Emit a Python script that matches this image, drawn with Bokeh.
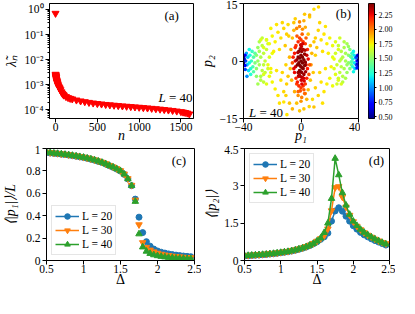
import numpy as np
from bokeh.plotting import figure
from bokeh.models import (ColumnDataSource, LinearColorMapper, FixedTicker,
                          Label, Legend, LegendItem, CustomJSTickFormatter,
                          NumeralTickFormatter, Range1d)
from bokeh.layouts import column, row
from bokeh.transform import transform
from bokeh.embed import file_html
from bokeh.resources import INLINE

# ---------------- panel (a): eigenvalue spectrum, L = 40 ----------------
n_idx = [0, 1, 2, 3, 4, 5, 6, 7, 8, 10, 12, 14, 16, 18, 20, 23, 26, 30, 35, 40, 45, 50,
         60, 70, 80, 90, 100, 125, 150, 175, 200, 250, 300, 350, 400, 450, 500, 550,
         600, 650, 700, 750, 800, 850, 900, 950, 1000, 1050, 1100, 1150, 1200, 1250,
         1300, 1350, 1400, 1450, 1500, 1525, 1550, 1575, 1600]
lam = [0.7, 2.6e-3, 2.45e-3, 2.3e-3, 2.2e-3, 2.1e-3, 2.0e-3, 1.9e-3, 1.82e-3, 1.68e-3,
       1.56e-3, 1.46e-3, 1.38e-3, 1.3e-3, 1.23e-3, 1.14e-3, 1.06e-3, 9.8e-4, 8.9e-4,
       8.2e-4, 7.6e-4, 7.1e-4, 6.3e-4, 5.2e-4, 4.6e-4, 4.15e-4, 3.85e-4, 3.35e-4,
       3.05e-4, 2.85e-4, 2.7e-4, 2.45e-4, 2.25e-4, 2.1e-4, 1.97e-4, 1.86e-4, 1.77e-4,
       1.7e-4, 1.63e-4, 1.57e-4, 1.52e-4, 1.47e-4, 1.42e-4, 1.38e-4, 1.34e-4, 1.3e-4,
       1.26e-4, 1.22e-4, 1.18e-4, 1.14e-4, 1.1e-4, 1.06e-4, 1.02e-4, 9.8e-5, 9.4e-5,
       8.9e-5, 8.4e-5, 8.1e-5, 7.8e-5, 7.4e-5, 6.8e-5]
a_xticks = [0, 500, 1000, 1500]
a_yticks = [1e-4, 1e-3, 1e-2, 1e-1, 1]

# ---------------- panel (b): (p1, p2) scatter coloured by value ----------------
p1_side_r = [24, 25, 26, 27, 27, 28, 28, 29, 29, 30, 30, 31, 31, 32, 32, 33, 33, 34, 34, 35, 35,
             26, 30, 29, 23, 22, 32, 27, 25, 31, 33, 28]
p2_side_r = [2, -1, 4, 0, -3, 2.5, -1.5, 1, -4, 3.5, -2, 0, 2, -1, -3, 1.5, -0.5, 3, -2, 1, -1,
             -4.5, 5, -5.5, -2, 1, 4.5, 6, -6, -4.5, 3.8, 0.5]
c_side_r = [1.66, 1.64, 1.63, 1.61, 1.61, 1.6, 1.6, 1.58, 1.58, 1.57, 1.57, 1.55, 1.55, 1.53,
            1.53, 1.5, 1.5, 1.47, 1.47, 1.42, 1.42, 1.64, 1.58, 1.6, 1.68, 1.7, 1.55, 1.66,
            1.66, 1.57, 1.52, 1.6]
p1_side_l = [-22, -23, -24, -25, -25, -26, -26, -27, -27, -28, -28, -29, -29, -30, -30, -31, -31,
             -32, -24, -28, -27, -21, -20, -30, -26, -23, -29, -31]
p2_side_l = [1, -2, 3, 0, -3, 2, -1, 4, -2.5, 1, -4, 2.5, -1, 0, 3.5, -2, 1.5, -0.5, 5.5, -5, 6,
             -3, 2, -6, -5.5, 4.5, 5, -4]
c_side_l = [1.68, 1.66, 1.64, 1.63, 1.63, 1.61, 1.61, 1.6, 1.6, 1.57, 1.57, 1.55, 1.55, 1.52,
            1.52, 1.5, 1.5, 1.46, 1.66, 1.58, 1.62, 1.7, 1.72, 1.55, 1.62, 1.66, 1.57, 1.5]
p1_edge_r = [35.5, 36, 36, 36.5, 37, 37, 37.5, 38, 36.5, 35, 34.5,
             38.5, 38.5, 39, 39.5, 39.5, 40, 40, 39]
p2_edge_r = [2, 0.5, -1.5, 2.5, -0.5, 1.5, -2, 0.8, -2.8, -0.2, 1.2,
             1, -1, 0, 1.5, -0.8, 0.3, -1.5, -1.8]
c_edge_r = [1.3, 1.25, 1.25, 1.2, 1.18, 1.18, 1.12, 1.1, 1.2, 1.35, 1.38,
            0.85, 0.85, 0.7, 0.6, 0.6, 0.5, 0.55, 0.75]
p1_edge_l = [-32, -33, -33.5, -34, -34.5, -35, -35.5, -36, -36, -36.5, -37, -37.5, -38, -37.6,
             -35, -33, -38.5, -39, -39, -39.5, -40, -40, -38.8]
p2_edge_l = [2, 1, -1.5, 2.5, 0, -2, 1.5, 3, -0.5, -2.5, 1, -1, 2, -4, -3.5, -2.8,
             0, 1.5, -1.2, 0.5, -0.5, 1, -2.2]
c_edge_l = [1.38, 1.35, 1.33, 1.3, 1.28, 1.25, 1.22, 1.2, 1.2, 1.15, 1.12, 1.1, 1.05, 1.0,
            1.25, 1.35, 0.85, 0.7, 0.72, 0.6, 0.5, 0.55, 0.85]
p1_wing = [12.2, 9.0, 2.5, -4.0, 6.0, -9.0, 5.7, -9.8, -10.5, -12.0, -18.0, 2.0, -1.0, 8.0,
           -10, -12, -14, -16, -18, -20, -22, -24, -26, -11, -15, -19, -13, -17, -21,
           -10, -12, -14, -16, -20, -22, -24, -26, -13, -17, -21, -15, -8,
           10, 12, 14, 16, 18, 20, 22, 24, 26, 11, 15, 19, 13, 17,
           10, 12, 14, 16, 18, 20, 22, 24, 26, 13, 17, 21, 9, 15,
           -6, 6, -23, 23, -28, 28]
p2_wing = [14.1, 13.5, 12.2, 11.0, 11.5, 9.5, -11.9, -14.0, -9.0, -10.7, -7.3, -12.5, -13.0, -10.0,
           7, 8.5, 6, 7.5, 5, 6.5, 4.5, 5.5, 3.5, 4, 3, 2.5, 10, 9.5, 8.5,
           -6, -8, -5, -9, -5.5, -4, -6, -3.5, -3, -2.5, -2, -11, -11,
           6, 8, 5.5, 7, 4.5, 6, 4, 5, 3, 3.5, 2.5, 2, 10, 9,
           -7, -9, -5.5, -8, -6, -4.5, -6.5, -3.5, -5, -3, -2, -1.5, -12, -11,
           -12.5, 12.0, -1.0, 0.5, 5.5, -6.0]
c_wing = [1.82, 1.8, 1.84, 1.83, 1.82, 1.8, 1.82, 1.78, 1.82, 1.78, 1.76, 1.84, 1.84, 1.8,
          1.83, 1.81, 1.79, 1.78, 1.76, 1.74, 1.72, 1.7, 1.68, 1.84, 1.79, 1.76, 1.81, 1.78, 1.75,
          1.83, 1.81, 1.79, 1.78, 1.74, 1.72, 1.7, 1.68, 1.81, 1.78, 1.75, 1.79, 1.85,
          1.83, 1.81, 1.79, 1.78, 1.76, 1.74, 1.72, 1.7, 1.68, 1.84, 1.79, 1.76, 1.81, 1.78,
          1.83, 1.81, 1.79, 1.78, 1.76, 1.74, 1.72, 1.7, 1.68, 1.81, 1.78, 1.75, 1.85, 1.79,
          1.88, 1.88, 1.72, 1.72, 1.68, 1.68]
p1_orange = [-7.0, -6.5, -6.0, -5.0, -3.0, -1.0, 1.0, 3.0, 5.0, 6.5, 7.0, 7.5, 6.5, 5.0, 3.0, 0.5,
             -2.0, -4.5, -7.5, -8.0, 8.5, -9.0, 9.0, -8.5, 4.0, -3.0, 2.0, -5.0, 0.0, -1.0, 10.0, -10.5]
p2_orange = [3.0, -5.0, 6.0, 8.0, 8.5, 9.0, 8.3, 8.8, 7.0, 4.0, -1.0, 2.0, -5.0, -7.5, -8.5, -9.5,
             -9.0, -8.0, -2.0, 1.0, -3.0, -4.0, 5.0, 6.5, -10.0, -11.0, 10.5, 10.0, -10.5, 10.2, 1.5, -1.0]
c_orange = [1.92, 1.88, 1.86, 1.88, 1.98, 2.0, 1.96, 1.9, 1.86, 1.88, 1.94, 1.88, 1.86, 1.88,
            1.94, 2.0, 1.96, 1.9, 1.86, 1.88, 1.84, 1.84, 1.84, 1.83, 1.88, 1.86, 1.9, 1.85,
            1.95, 1.98, 1.82, 1.82]
p1_halo = [-4.0, -4.5, -5.0, -3.5, -3.5, -3.0, -2.0, -1.0, 0.0, 1.5, 3.0, 4.5, 5.0, 4.5, 4.0, 3.0,
           1.5, 0.0, -1.5, -2.5, -4.5, 5.5, -5.5, 2.0, -0.5, 3.5, -2.8, 0.8, -4.0, 4.0, 3.5, -3.8,
           -6.0, 6.0, 2.5, -2.0]
p2_halo = [0.0, 2.0, -2.0, 4.0, -4.5, -6.0, 5.0, 6.0, 5.5, 5.0, 4.5, 3.0, 0.5, -2.0, -4.5, -6.0,
           -6.5, -7.0, -6.5, -5.5, -3.0, -3.5, 1.0, -7.5, -7.8, 6.0, 6.5, 7.0, 3.5, 1.5, -1.0, -1.5,
           -0.5, -1.0, -8.5, -8.0]
c_halo = [2.3, 2.22, 2.25, 2.15, 2.2, 2.12, 2.18, 2.12, 2.15, 2.16, 2.14, 2.18, 2.25, 2.22, 2.2,
          2.14, 2.16, 2.14, 2.17, 2.2, 2.25, 2.1, 2.2, 2.08, 2.1, 2.06, 2.08, 2.06, 2.18, 2.3, 2.32,
          2.3, 2.1, 2.1, 2.05, 2.06]
p1_core = [-2.5, -2.0, -2.0, -1.5, -1.5, -1.0, -1.0, -0.5, -0.5, 0.0, 0.0, 0.0, 0.5, 0.5, 1.0, 1.0,
           1.0, 1.5, 1.5, 2.0, 2.0, 2.5, 2.5, 3.0, 3.2, -2.8, -0.3, 0.3, 1.8, -1.8, 0.8, -0.8, 2.8,
           -2.2, 0.2, -0.2, 1.2, -1.2, 2.2, 0.6]
p2_core = [-1.0, 1.0, -3.0, 2.5, -0.5, -2.5, 0.8, 3.2, -4.0, -1.5, 1.5, 0.0, -3.0, 2.5, -0.5, -4.3,
           1.0, 3.0, -2.0, 0.3, -3.5, 1.8, -1.2, -0.3, -2.8, 0.3, -2.8, 3.8, -4.5, -4.0, -1.8, -1.2,
           2.8, 2.2, -5.0, 4.2, 4.5, -3.6, -5.2, -6.0]
c_core = [2.44, 2.42, 2.4, 2.43, 2.44, 2.41, 2.44, 2.38, 2.36, 2.44, 2.43, 2.44, 2.4, 2.39, 2.44,
          2.34, 2.43, 2.37, 2.42, 2.44, 2.38, 2.4, 2.43, 2.41, 2.37, 2.39, 2.42, 2.33, 2.3, 2.32,
          2.43, 2.44, 2.35, 2.37, 2.3, 2.32, 2.3, 2.36, 2.28, 2.27]
b_xticks = [-40, 0, 40]
b_yticks = [-15, 0, 15]
cbar_ticks = [0.5, 0.75, 1.0, 1.25, 1.5, 1.75, 2.0, 2.25]
cbar_low, cbar_high = 0.47, 2.44

# ---------------- panels (c) and (d) ----------------
delta = [0.5, 0.55, 0.6, 0.65, 0.7, 0.75, 0.8, 0.85, 0.9, 0.95, 1.0, 1.05, 1.1, 1.15, 1.2,
         1.25, 1.3, 1.35, 1.4, 1.45, 1.5, 1.55, 1.6, 1.65, 1.7, 1.75, 1.8, 1.85, 1.9, 1.95,
         2.0, 2.05, 2.1, 2.15, 2.2, 2.25, 2.3, 2.35, 2.4, 2.45]
p1L_20 = [0.963, 0.96, 0.956, 0.953, 0.949, 0.945, 0.941, 0.936, 0.931, 0.925, 0.919, 0.912,
          0.904, 0.895, 0.885, 0.874, 0.861, 0.846, 0.832, 0.816, 0.798, 0.769, 0.728, 0.668,
          0.548, 0.387, 0.249, 0.168, 0.128, 0.102, 0.085, 0.074, 0.066, 0.059, 0.053, 0.048,
          0.044, 0.040, 0.037, 0.034]
p1L_30 = [0.967, 0.964, 0.96, 0.957, 0.953, 0.949, 0.945, 0.94, 0.935, 0.929, 0.923, 0.916,
          0.908, 0.899, 0.889, 0.878, 0.865, 0.85, 0.836, 0.82, 0.802, 0.773, 0.731, 0.672,
          0.540, 0.320, 0.160, 0.118, 0.094, 0.078, 0.066, 0.057, 0.050, 0.045, 0.040, 0.036,
          0.033, 0.030, 0.028, 0.026]
p1L_40 = [0.965, 0.962, 0.958, 0.955, 0.951, 0.947, 0.943, 0.938, 0.933, 0.927, 0.921, 0.914,
          0.906, 0.897, 0.887, 0.876, 0.863, 0.848, 0.834, 0.818, 0.800, 0.771, 0.729, 0.668,
          0.527, 0.237, 0.120, 0.082, 0.062, 0.050, 0.042, 0.036, 0.031, 0.027, 0.024, 0.021,
          0.019, 0.017, 0.016, 0.015]
p2_20 = [0.18, 0.19, 0.20, 0.21, 0.22, 0.23, 0.24, 0.26, 0.27, 0.29, 0.31, 0.33, 0.35, 0.38,
         0.41, 0.45, 0.49, 0.54, 0.60, 0.67, 0.75, 0.85, 0.95, 1.10, 1.58, 1.99, 2.12, 1.98,
         1.78, 1.58, 1.40, 1.26, 1.13, 1.03, 0.95, 0.87, 0.80, 0.74, 0.68, 0.62]
p2_30 = [0.20, 0.21, 0.22, 0.23, 0.24, 0.25, 0.26, 0.28, 0.29, 0.31, 0.33, 0.35, 0.37, 0.40,
         0.43, 0.47, 0.51, 0.56, 0.62, 0.69, 0.78, 0.88, 1.00, 1.27, 2.00, 2.93, 2.97, 2.55,
         2.15, 1.82, 1.56, 1.38, 1.24, 1.12, 1.02, 0.94, 0.86, 0.79, 0.73, 0.68]
p2_40 = [0.19, 0.20, 0.21, 0.22, 0.23, 0.24, 0.25, 0.27, 0.28, 0.30, 0.32, 0.34, 0.36, 0.39,
         0.42, 0.46, 0.50, 0.55, 0.61, 0.68, 0.78, 0.90, 1.12, 1.50, 2.49, 4.10, 3.44, 2.72,
         2.22, 1.85, 1.58, 1.40, 1.25, 1.13, 1.03, 0.94, 0.86, 0.79, 0.72, 0.66]
sizes_L = ["L = 20", "L = 30", "L = 40"]
delta_ticks = [0.5, 1.0, 1.5, 2.0, 2.5]
c_yticks = [0, 0.2, 0.4, 0.6, 0.8, 1.0]
d_yticks = [0, 1.5, 3.0, 4.5]

COLORS = ["#1f77b4", "#ff7f0e", "#2ca02c"]
MARKERS = ["circle", "inverted_triangle", "triangle"]
FONT = "Liberation Serif"
TICK_FS = "11.5px"
LAB_FS = "14px"


def jet_palette(n=256):
    x = np.linspace(0, 1, n)
    r = np.interp(x, [0, 0.35, 0.66, 0.89, 1], [0, 0, 1, 1, 0.5])
    g = np.interp(x, [0, 0.125, 0.375, 0.64, 0.91, 1], [0, 0, 1, 1, 0, 0])
    b = np.interp(x, [0, 0.11, 0.34, 0.65, 1], [0.5, 1, 1, 0, 0])
    return ["#%02x%02x%02x" % (int(round(255 * rr)), int(round(255 * gg)), int(round(255 * bb)))
            for rr, gg, bb in zip(r, g, b)]


def style(p, xlab, ylab, xstyle="normal", ystyle="normal", xstand=-3, ystand=2):
    p.outline_line_color = "black"
    p.outline_line_alpha = 1.0
    p.outline_line_width = 1
    p.xgrid.visible = False
    p.ygrid.visible = False
    p.background_fill_color = "white"
    p.border_fill_color = "white"
    for ax in p.axis:
        ax.major_label_text_font = FONT
        ax.major_label_text_font_size = TICK_FS
        ax.major_label_text_color = "black"
        ax.axis_label_text_font = FONT
        ax.axis_label_text_font_size = LAB_FS
        ax.axis_label_text_color = "black"
        ax.major_tick_in = 0
        ax.major_tick_out = 4
        ax.minor_tick_in = 0
        ax.minor_tick_out = 2
        ax.axis_line_color = "black"
        ax.major_tick_line_color = "black"
        ax.minor_tick_line_color = "black"
    p.xaxis.axis_label = xlab
    p.yaxis.axis_label = ylab
    p.xaxis.axis_label_text_font_style = xstyle
    p.yaxis.axis_label_text_font_style = ystyle
    p.xaxis.major_label_standoff = 0
    p.yaxis.major_label_standoff = 2
    p.xaxis.axis_label_standoff = xstand
    p.yaxis.axis_label_standoff = ystand


def txt(p, x, y, s, align="center", italic=False, x_offset=0, size="13px"):
    p.add_layout(Label(x=x, y=y, text=s, text_font=FONT, text_font_size=size,
                       text_align=align, text_baseline="middle", text_color="black",
                       x_offset=x_offset,
                       text_font_style="italic" if italic else "normal"))


H1 = 145  # height of the upper row of panels
H2 = 144  # height of the lower row of panels

# ---------- (a) ----------
pa = figure(width=196, height=H1, y_axis_type="log",
            x_range=Range1d(-72, 1650), y_range=Range1d(4.5e-5, 1.73),
            output_backend="svg", toolbar_location=None,
            min_border_left=44, min_border_right=3, min_border_top=0, min_border_bottom=27)
style(pa, "n", "\u03bb\u0303\u2099", xstyle="italic", ystyle="italic", xstand=-6, ystand=2)
pa.xaxis.ticker = FixedTicker(ticks=a_xticks)
pa.yaxis.ticker = FixedTicker(ticks=a_yticks,
                              minor_ticks=[m * 10.0 ** e for e in range(-5, 1) for m in range(2, 10)])
pa.yaxis.formatter = CustomJSTickFormatter(code="""
const e = Math.round(Math.log10(tick));
const m = {"-":"\\u207b","0":"\\u2070","1":"\\u00b9","2":"\\u00b2","3":"\\u00b3","4":"\\u2074","5":"\\u2075"};
return "10" + String(e).split("").map(c => m[c]).join("");
""")
pa.scatter(n_idx, lam, marker="inverted_triangle", size=7, color="#ff0000")
txt(pa, 1389, 0.56, "(a)")
txt(pa, 1230, 3.0e-4, "L", align="left", italic=True)
txt(pa, 1230, 3.0e-4, "= 40", align="left", x_offset=10.5)

# ---------- (b) ----------
pb = figure(width=164, height=H1, x_range=Range1d(-40, 40), y_range=Range1d(-15, 15),
            output_backend="svg", toolbar_location=None,
            min_border_left=42, min_border_right=2, min_border_top=3, min_border_bottom=27)
style(pb, "p\u2081", "p\u2082", xstyle="italic", ystyle="italic", xstand=-6, ystand=2)
pb.xaxis.ticker = FixedTicker(ticks=b_xticks)
pb.yaxis.ticker = FixedTicker(ticks=b_yticks)
mapper = LinearColorMapper(palette=jet_palette(), low=cbar_low, high=cbar_high)
src_b = ColumnDataSource(dict(
    p1=p1_side_r + p1_side_l + p1_edge_r + p1_edge_l + p1_wing + p1_orange + p1_halo + p1_core,
    p2=p2_side_r + p2_side_l + p2_edge_r + p2_edge_l + p2_wing + p2_orange + p2_halo + p2_core,
    c=c_side_r + c_side_l + c_edge_r + c_edge_l + c_wing + c_orange + c_halo + c_core))
pb.scatter("p1", "p2", source=src_b, size=3.6, marker="circle",
           fill_color=transform("c", mapper), line_color=None)
txt(pb, 29.5, 12.3, "(b)")
txt(pb, -36.2, -13.4, "L", align="left", italic=True)
txt(pb, -36.2, -13.4, "= 40", align="left", x_offset=10.5)

# colour bar of (b), drawn as its own narrow plot so the layout stays fixed
pcb = figure(width=35, height=H1, x_range=Range1d(0, 1), y_range=Range1d(cbar_low, cbar_high),
             output_backend="svg", toolbar_location=None, y_axis_location="right",
             min_border_left=8, min_border_right=19, min_border_top=3, min_border_bottom=27)
pcb.xaxis.visible = False
pcb.xgrid.visible = False
pcb.ygrid.visible = False
pcb.outline_line_color = "black"
pcb.outline_line_alpha = 1.0
pcb.image(image=[np.linspace(cbar_low, cbar_high, 256).reshape(256, 1)], x=0, y=cbar_low,
          dw=1, dh=cbar_high - cbar_low, color_mapper=mapper)
pcb.yaxis.ticker = FixedTicker(ticks=cbar_ticks)
pcb.yaxis.formatter = NumeralTickFormatter(format="0.00")
pcb.yaxis.major_label_text_font = FONT
pcb.yaxis.major_label_text_font_size = "8px"
pcb.yaxis.major_label_text_color = "black"
pcb.yaxis.major_label_standoff = 2
pcb.yaxis.major_tick_in = 0
pcb.yaxis.major_tick_out = 2
pcb.yaxis.minor_tick_out = 0
pcb.yaxis.axis_line_color = "black"


def legend_for(p, rends, loc):
    items = [LegendItem(label=lab, renderers=r) for lab, r in zip(sizes_L, rends)]
    leg = Legend(items=items, location=loc, label_text_font=FONT, label_text_font_size="11.5px",
                 label_text_color="black", border_line_color="#cccccc", border_line_width=1,
                 background_fill_alpha=0.8, padding=3, spacing=0, glyph_width=24,
                 glyph_height=14, label_height=14, label_standoff=3, margin=5)
    p.add_layout(leg)


# ---------- (c) ----------
pc = figure(width=201, height=H2, x_range=Range1d(0.5, 2.5), y_range=Range1d(0, 1.0),
            output_backend="svg", toolbar_location=None,
            min_border_left=42, min_border_right=7, min_border_top=3, min_border_bottom=28)
style(pc, "\u0394", "\u27e8|p\u2081|\u27e9/L", ystyle="italic", xstand=-4, ystand=5)
pc.xaxis.ticker = FixedTicker(ticks=delta_ticks)
pc.yaxis.ticker = FixedTicker(ticks=c_yticks)
pc.yaxis.major_label_overrides = {0: "0"}
# the lines of panel (c) exist only for the legend: they live on a y-range off the frame
pc.extra_y_ranges = {"legend_only": Range1d(50, 51)}
rends_c = []
for yv, col, mk in zip([p1L_20, p1L_30, p1L_40], COLORS, MARKERS):
    ln = pc.line(delta, yv, color=col, line_width=1.5, y_range_name="legend_only")
    sc = pc.scatter(delta, yv, marker=mk, size=6.5 if mk != "circle" else 6, color=col)
    rends_c.append([ln, sc])
legend_for(pc, rends_c, "bottom_left")
txt(pc, 2.29, 0.895, "(c)")

# ---------- (d) ----------
pd = figure(width=194, height=H2, x_range=Range1d(0.5, 2.5), y_range=Range1d(0, 4.5),
            output_backend="svg", toolbar_location=None,
            min_border_left=39, min_border_right=6, min_border_top=3, min_border_bottom=28)
style(pd, "\u0394", "\u27e8|p\u2082|\u27e9", ystyle="italic", xstand=-4, ystand=2)
pd.xaxis.ticker = FixedTicker(ticks=delta_ticks)
pd.yaxis.ticker = FixedTicker(ticks=d_yticks)
pd.yaxis.major_label_overrides = {0: "0"}
rends_d = []
for yv, col, mk in zip([p2_20, p2_30, p2_40], COLORS, MARKERS):
    ln = pd.line(delta, yv, color=col, line_width=1.5)
    sc = pd.scatter(delta, yv, marker=mk, size=6.5 if mk != "circle" else 6, color=col)
    rends_d.append([ln, sc])
legend_for(pd, rends_d, "top_left")
txt(pd, 2.32, 4.03, "(d)")

layout = column(row(pa, pb, pcb), row(pc, pd))
open("out.html", "w").write(file_html(layout, INLINE))
